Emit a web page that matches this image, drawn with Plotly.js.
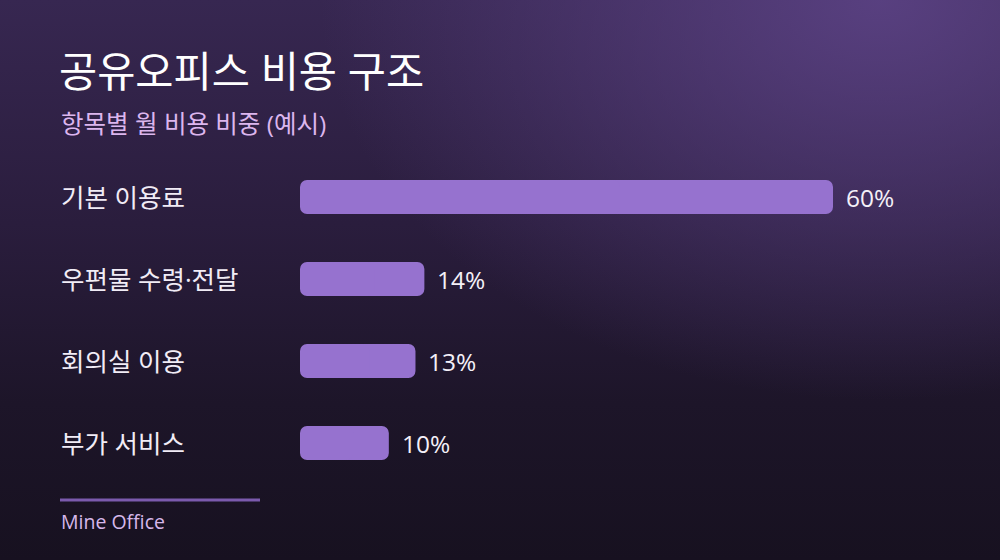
<!DOCTYPE html>
<html>
<head>
<meta charset="utf-8">
<script src="https://cdn.plot.ly/plotly-3.0.1.min.js"></script>
<style>
  html, body { margin: 0; padding: 0; }
  #plot {
    width: 1000px; height: 560px;
    background:
      radial-gradient(ellipse 560px 400px at 880px 0px, rgba(94,68,136,0.85), rgba(94,68,136,0) 100%),
      linear-gradient(to bottom, #372751 0%, #2a1d3d 40%, #1d1529 72%, #171120 100%);
  }
</style>
</head>
<body>
<div id="plot"></div>
<script>
// chart values
var categories = ['기본 이용료', '우편물 수령·전달', '회의실 이용', '부가 서비스'];
var shares = [60, 14, 13, 10];

var titleText = '공유오피스 비용 구조';
var subtitleText = '항목별 월 비용 비중 (예시)';
var footerText = 'Mine Office';

var KR = '"Open Sans", "Noto Sans CJK KR", sans-serif';

// plot area: x 300..833, y 156..484 (pixels)
function px(x) { return (x - 300) / 533; }
function py(y) { return (484 - y) / 328; }

// each bar is two overlapping pieces so both ends get rounded
var barStyle = { color: '#9672cf', cornerradius: 7, line: { width: 0 } };

var rightPiece = {
  type: 'bar', orientation: 'h',
  y: categories,
  base: shares.map(function(v) { return v * 0.4; }),
  x: shares.map(function(v) { return v * 0.6; }),
  width: 0.415, marker: barStyle, hoverinfo: 'none'
};
var leftPiece = {
  type: 'bar', orientation: 'h',
  y: categories,
  base: shares.map(function(v) { return v * 0.6; }),
  x: shares.map(function(v) { return -v * 0.6; }),
  width: 0.415, marker: barStyle, hoverinfo: 'none'
};

var annotations = [];
// category labels on the left
categories.forEach(function(c) {
  annotations.push({
    xref: 'paper', yref: 'y', x: px(59), y: c,
    xanchor: 'left', yanchor: 'middle', showarrow: false,
    text: c, font: { family: KR, size: 25.5, color: '#f1ecf6' }
  });
});
// value labels next to bars
shares.forEach(function(v, i) {
  annotations.push({
    xref: 'x', yref: 'y', x: v, y: categories[i],
    xanchor: 'left', yanchor: 'middle', xshift: 11, showarrow: false,
    text: v + '%', font: { family: KR, size: 24.5, color: '#f4f0f8' }
  });
});
// subtitle
annotations.push({
  xref: 'paper', yref: 'paper', x: px(59), y: py(123),
  xanchor: 'left', yanchor: 'middle', showarrow: false,
  text: subtitleText, font: { family: KR, size: 24.5, color: '#dcb6ee' }
});
// footer
annotations.push({
  xref: 'paper', yref: 'paper', x: px(59), y: py(521),
  xanchor: 'left', yanchor: 'middle', showarrow: false,
  text: footerText, font: { family: KR, size: 19.5, color: '#d6b8ea' }
});

var layout = {
  width: 1000, height: 560,
  paper_bgcolor: 'rgba(0,0,0,0)',
  plot_bgcolor: 'rgba(0,0,0,0)',
  margin: { l: 300, r: 167, t: 156, b: 76 },
  barmode: 'overlay',
  title: {
    text: titleText,
    xref: 'container', yref: 'container',
    x: 0.059, xanchor: 'left', y: 1 - 72 / 560, yanchor: 'middle',
    font: { family: KR, size: 41.5, color: '#ffffff' }
  },
  xaxis: { range: [0, 60], visible: false, fixedrange: true },
  yaxis: {
    autorange: 'reversed', visible: false, fixedrange: true,
    range: [3.5, -0.5]
  },
  showlegend: false,
  annotations: annotations,
  shapes: [{
    type: 'line', xref: 'paper', yref: 'paper',
    x0: px(60), x1: px(260), y0: py(500), y1: py(500),
    line: { color: '#7b5aad', width: 3 }
  }]
};

Plotly.newPlot('plot', [rightPiece, leftPiece], layout, { displayModeBar: false, staticPlot: true });
</script>
</body>
</html>
